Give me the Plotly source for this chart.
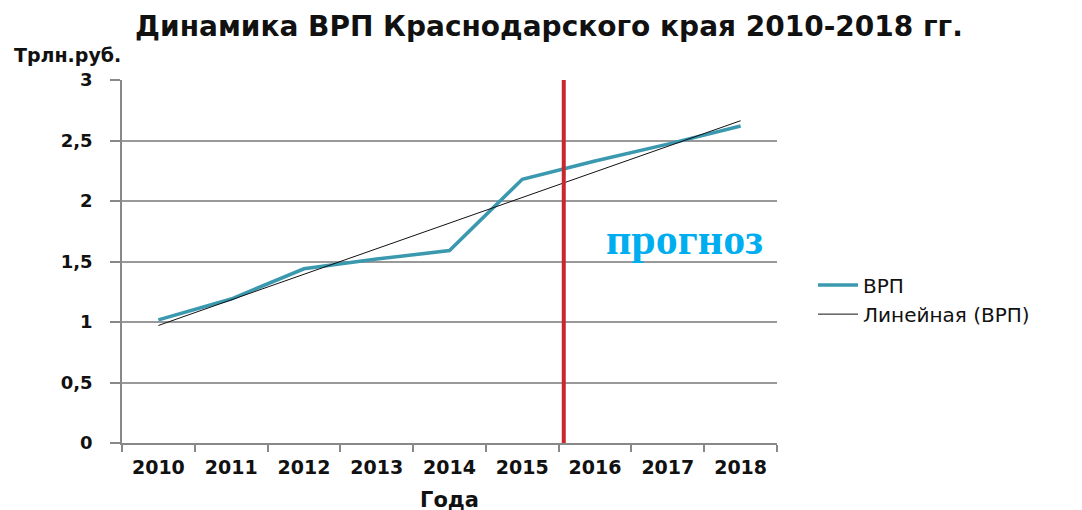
import numpy as np
import plotly.graph_objects as go

years = ["2010", "2011", "2012", "2013", "2014", "2015", "2016", "2017", "2018"]
grp = [1.017, 1.19, 1.44, 1.52, 1.59, 2.18, 2.33, 2.47, 2.62]
y_ticks = [0, 0.5, 1, 1.5, 2, 2.5, 3]
y_ticktext = ["0", "0,5", "1", "1,5", "2", "2,5", "3"]
forecast_x = 5.57  # position of the forecast divider (between 2015 and 2016)

idx = np.arange(len(years))
slope, intercept = np.polyfit(idx, grp, 1)
trend = list(slope * idx + intercept)

FONT = "DejaVu Sans"

fig = go.Figure()
fig.add_trace(go.Scatter(
    x=years, y=grp, mode="lines", name="ВРП",
    line=dict(color="#3A98AF", width=3.5),
))
fig.add_trace(go.Scatter(
    x=years, y=trend, mode="lines", name="Линейная (ВРП)",
    line=dict(color="#111111", width=1),
))

fig.add_shape(type="line", xref="x", yref="y", x0=forecast_x, x1=forecast_x,
              y0=0, y1=3, line=dict(color="#C8282D", width=4), layer="above")

fig.add_annotation(text="прогноз", xref="x", yref="y", x=7.235, y=1.68,
                   showarrow=False, font=dict(family="Liberation Serif", size=44,
                                              color="#00AEEF", weight="bold"))

fig.add_annotation(text="<b>Трлн.руб.</b>", xref="paper", yref="paper",
                   x=-0.168, y=1.069, xanchor="left", yanchor="middle",
                   showarrow=False, font=dict(family=FONT, size=19, color="#111"))
fig.add_annotation(text="<b>Года</b>", xref="paper", yref="paper",
                   x=0.5, y=-0.157, xanchor="center", yanchor="middle",
                   showarrow=False, font=dict(family=FONT, size=21, color="#111"))

fig.update_layout(
    width=1082, height=510,
    margin=dict(l=114, r=313, t=72, b=75),
    paper_bgcolor="white", plot_bgcolor="white",
    title=dict(text="<b>Динамика ВРП Краснодарского края 2010-2018 гг.</b>",
               x=0.5, xanchor="center", y=0.965, yanchor="middle",
               font=dict(family=FONT, size=28, color="#111")),
    legend=dict(x=1.055, y=0.395, xanchor="left", yanchor="middle",
                font=dict(family=FONT, size=20, color="#111"),
                tracegroupgap=8, itemwidth=40),
    showlegend=True,
)

fig.update_xaxes(
    type="category", range=[-0.5, 8.5], tickson="boundaries",
    ticks="outside", ticklen=7, tickcolor="#888", tickwidth=1.5,
    showline=True, linecolor="#888", linewidth=1.5, showgrid=False,
    tickfont=dict(family=FONT, size=19, color="#111", weight="bold"),
    ticklabelstandoff=6,
)
fig.update_yaxes(
    range=[0, 3], tickvals=y_ticks, ticktext=y_ticktext,
    ticks="outside", ticklen=10, tickcolor="#888", tickwidth=1.5,
    showline=True, linecolor="#888", linewidth=1.5,
    showgrid=True, gridcolor="#999", gridwidth=1.5, zeroline=False,
    tickfont=dict(family=FONT, size=18, color="#111", weight="bold"),
    ticklabelstandoff=14,
)

fig.write_html("out.html")
